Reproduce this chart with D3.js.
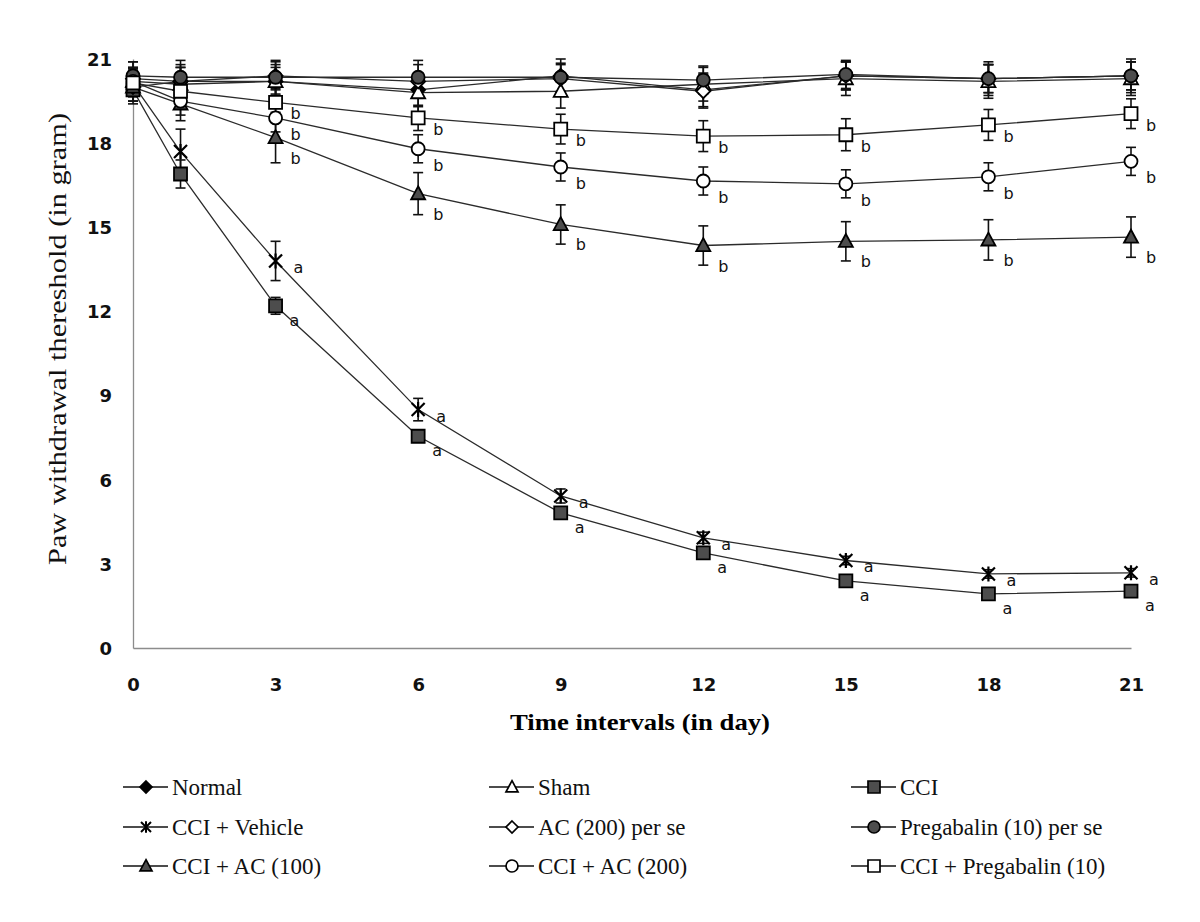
<!DOCTYPE html>
<html>
<head>
<meta charset="utf-8">
<script src="https://cdn.jsdelivr.net/npm/d3@7"></script>
<style>
  body { margin: 0; background: #fff; }
  svg { display: block; }
</style>
</head>
<body>
<svg id="chart" width="1200" height="922"></svg>
<script>
// days of measurement
const days = [0, 1, 3, 6, 9, 12, 15, 18, 21];
const tickDays = [0, 3, 6, 9, 12, 15, 18, 21];
const yTicks = [0, 3, 6, 9, 12, 15, 18, 21];

// mean paw withdrawal threshold (g)
const normal     = [20.3, 20.2, 20.2, 19.9, 20.4, 19.9, 20.4, 20.3, 20.4];
const sham       = [20.2, 20.1, 20.2, 19.8, 19.85, 20.1, 20.3, 20.2, 20.3];
const cci        = [19.9, 16.9, 12.2, 7.55, 4.82, 3.39, 2.39, 1.93, 2.03];
const cciVehicle = [20.1, 17.7, 13.8, 8.5, 5.42, 3.93, 3.12, 2.64, 2.68];
const acPerSe    = [20.0, 20.2, 20.4, 20.2, 20.3, 19.85, 20.4, 20.3, 20.4];
const pregPerSe  = [20.4, 20.35, 20.35, 20.35, 20.35, 20.25, 20.45, 20.3, 20.4];
const cciAc100   = [20.0, 19.4, 18.2, 16.2, 15.1, 14.35, 14.5, 14.55, 14.65];
const cciAc200   = [20.2, 19.5, 18.9, 17.8, 17.15, 16.65, 16.55, 16.8, 17.35];
const cciPreg    = [20.15, 19.85, 19.45, 18.9, 18.5, 18.25, 18.3, 18.65, 19.05];

// error bars (SEM)
const normalErr     = [0.6, 0.6, 0.5, 0.6, 0.6, 0.6, 0.5, 0.6, 0.6];
const shamErr       = [0.5, 0.6, 0.6, 0.7, 0.6, 0.6, 0.6, 0.6, 0.6];
const cciErr        = [0.4, 0.5, 0.3, 0.2, 0.2, 0.15, 0.15, 0.1, 0.15];
const cciVehicleErr = [0.4, 0.8, 0.7, 0.4, 0.25, 0.2, 0.15, 0.15, 0.15];
const acPerSeErr    = [0.6, 0.5, 0.5, 0.6, 0.5, 0.6, 0.5, 0.5, 0.5];
const pregPerSeErr  = [0.5, 0.6, 0.6, 0.6, 0.5, 0.5, 0.5, 0.5, 0.5];
const cciAc100Err   = [0.5, 0.6, 0.9, 0.75, 0.7, 0.7, 0.7, 0.72, 0.72];
const cciAc200Err   = [0.5, 0.5, 0.5, 0.5, 0.5, 0.5, 0.5, 0.5, 0.5];
const cciPregErr    = [0.5, 0.5, 0.5, 0.45, 0.53, 0.55, 0.57, 0.55, 0.53];

const labels = ["Normal", "Sham", "CCI", "CCI + Vehicle", "AC (200) per se",
  "Pregabalin (10) per se", "CCI + AC (100)", "CCI + AC (200)", "CCI + Pregabalin (10)"];

const series = [
  { name: labels[0], values: normal, err: normalErr, shape: "diamond", fill: "#000" },
  { name: labels[1], values: sham, err: shamErr, shape: "triangle", fill: "#fff" },
  { name: labels[2], values: cci, err: cciErr, shape: "square", fill: "#4d4d4d" },
  { name: labels[3], values: cciVehicle, err: cciVehicleErr, shape: "star", fill: "none" },
  { name: labels[4], values: acPerSe, err: acPerSeErr, shape: "diamond", fill: "#fff" },
  { name: labels[5], values: pregPerSe, err: pregPerSeErr, shape: "circle", fill: "#4d4d4d" },
  { name: labels[6], values: cciAc100, err: cciAc100Err, shape: "triangle", fill: "#4d4d4d" },
  { name: labels[7], values: cciAc200, err: cciAc200Err, shape: "circle", fill: "#fff" },
  { name: labels[8], values: cciPreg, err: cciPregErr, shape: "square", fill: "#fff" }
];

const svg = d3.select("#chart");
const x = d3.scaleLinear().domain([0, 21]).range([133, 1131]);
const y = d3.scaleLinear().domain([0, 21]).range([648, 59]);

// axes
const xAxis = svg.append("g")
  .attr("transform", `translate(0,${y(0)})`)
  .call(d3.axisBottom(x).tickValues(tickDays).tickSize(0).tickPadding(30));
const yAxis = svg.append("g")
  .attr("transform", `translate(${x(0)},0)`)
  .call(d3.axisLeft(y).tickValues(yTicks).tickSize(0).tickPadding(21));
[xAxis, yAxis].forEach(a => {
  a.select(".domain").attr("stroke", "#8c8c8c").attr("stroke-width", 1.3);
  a.selectAll("text")
    .style("font-family", "'DejaVu Sans', sans-serif")
    .style("font-weight", "bold")
    .style("font-size", "18px")
    .attr("fill", "#111");
});
yAxis.selectAll("text").attr("dy", "0.35em");

// axis titles
svg.append("text")
  .attr("x", 640).attr("y", 730)
  .attr("text-anchor", "middle")
  .attr("textLength", 260).attr("lengthAdjust", "spacingAndGlyphs")
  .style("font-family", "'Liberation Serif', serif")
  .style("font-weight", "bold")
  .style("font-size", "23px")
  .text("Time intervals (in day)");

svg.append("text")
  .attr("transform", "translate(66,339) rotate(-90)")
  .attr("text-anchor", "middle")
  .attr("textLength", 452).attr("lengthAdjust", "spacingAndGlyphs")
  .style("font-family", "'Liberation Serif', serif")
  .style("font-size", "25px")
  .attr("fill", "#111")
  .text("Paw withdrawal thereshold (in gram)");

// marker outline centred on 0,0 ; s = nominal width in px
function markerPath(shape, s) {
  const r = s / 2;
  if (shape === "star") {
    return `M${-r},${-r}L${r},${r}M${-r},${r}L${r},${-r}M0,${-r * 1.15}L0,${r * 1.15}`;
  }
  if (shape === "diamond") {
    return `M0,${-r}L${r},0L0,${r}L${-r},0Z`;
  }
  if (shape === "triangle") {
    return `M0,${-r * 1.05}L${r},${r * 0.8}L${-r},${r * 0.8}Z`;
  }
  if (shape === "square") {
    return `M${-r},${-r}H${r}V${r}H${-r}Z`;
  }
  return d3.arc()({ innerRadius: 0, outerRadius: r, startAngle: 0, endAngle: 2 * Math.PI });
}

const markerSize = { diamond: 14, triangle: 14, square: 13, star: 13, circle: 13 };

const line = d3.line().x((d, i) => x(days[i])).y(d => y(d));

// lines
svg.append("g").selectAll("path")
  .data(series)
  .join("path")
  .attr("d", s => line(s.values))
  .attr("fill", "none")
  .attr("stroke", "#2b2b2b")
  .attr("stroke-width", 1.3);

// error bars
series.forEach(s => {
  const g = svg.append("g").attr("stroke", "#111").attr("stroke-width", 1.6);
  s.values.forEach((v, i) => {
    const cx = x(days[i]);
    const hi = y(v + s.err[i]), lo = y(v - s.err[i]);
    g.append("line").attr("x1", cx).attr("x2", cx).attr("y1", hi).attr("y2", lo);
    g.append("line").attr("x1", cx - 5).attr("x2", cx + 5).attr("y1", hi).attr("y2", hi);
    g.append("line").attr("x1", cx - 5).attr("x2", cx + 5).attr("y1", lo).attr("y2", lo);
  });
});

// markers
series.forEach(s => {
  svg.append("g").selectAll("path")
    .data(s.values)
    .join("path")
    .attr("transform", (d, i) => `translate(${x(days[i])},${y(d)})`)
    .attr("d", markerPath(s.shape, markerSize[s.shape]))
    .attr("fill", s.fill)
    .attr("stroke", "#000")
    .attr("stroke-width", s.shape === "star" ? 2.2 : 1.8);
});

// significance letters
const letterStyle = g => g.style("font-family", "'DejaVu Sans', sans-serif")
  .style("font-size", "16px").attr("fill", "#111");
const laterDays = days.map((d, i) => i).filter(i => days[i] >= 3);
const ann = svg.append("g").call(letterStyle);
laterDays.forEach(i => {
  ann.append("text").attr("x", x(days[i]) + 18).attr("y", y(cciVehicle[i]) + 12).text("a");
  ann.append("text").attr("x", x(days[i]) + 14).attr("y", y(cci[i]) + 20).text("a");
  [[cciPreg, 17], [cciAc200, 22], [cciAc100, 26]].forEach(([vals, dy]) => {
    ann.append("text").attr("x", x(days[i]) + 15).attr("y", y(vals[i]) + dy).text("b");
  });
});

// legend
const legendCols = [123, 489, 851];
const legendRows = [787, 827, 866];
const legend = svg.append("g");
series.forEach((s, k) => {
  const lx = legendCols[k % 3], ly = legendRows[Math.floor(k / 3)];
  const g = legend.append("g").attr("transform", `translate(${lx},${ly})`);
  g.append("line").attr("x1", 0).attr("x2", 45).attr("y1", 0).attr("y2", 0)
    .attr("stroke", "#111").attr("stroke-width", 1.6);
  g.append("path")
    .attr("transform", "translate(23,0)")
    .attr("d", markerPath(s.shape, s.shape === "star" ? 10 : 12))
    .attr("fill", s.fill)
    .attr("stroke", "#000")
    .attr("stroke-width", s.shape === "star" ? 2 : 1.7);
  g.append("text")
    .attr("x", 49).attr("y", 0).attr("dy", "0.35em")
    .style("font-family", "'Liberation Serif', serif")
    .style("font-size", "23px")
    .attr("fill", "#111")
    .text(s.name);
});
</script>
</body>
</html>
